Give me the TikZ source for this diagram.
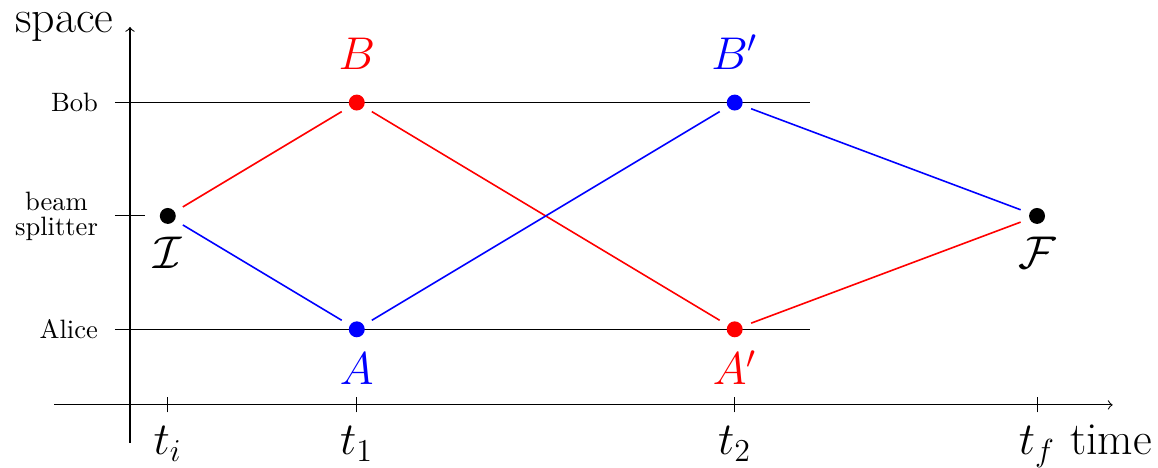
\documentclass[tikz,border=0pt]{standalone}
\usepackage{amsmath,amssymb,amsfonts}
\usepackage{xcolor}
\usepackage{tikz}
\usetikzlibrary{positioning, arrows.meta}
\definecolor{pRed}{HTML}{FF0000}
\definecolor{pBlue}{HTML}{0000FF}
\tikzset{
  dot/.style={circle, fill, inner sep=0pt, minimum size=6pt, outer sep=3.6pt},
  ray/.style={semithick},
  biglabel/.style={font=\LARGE, anchor=base, inner sep=0pt},
  place/.style={font=\normalsize, align=center, anchor=east},
}

\begin{document}
\begin{tikzpicture}[>=to]
  \useasboundingbox (-1.72,-0.833) rectangle (13.6,5.357);
  % axes
  \draw[->] (-1,0) -- (13,0);
  \draw[->] (0,-0.5) -- (0,5);
  \node[biglabel] (space) at (-0.867,4.93) {space};
  \node[biglabel] (time) at (12.98,-0.66) {time};
  % places
  \draw (-0.2,4) -- (9,4);
  \draw (-0.2,1) -- (9,1);
  \draw (-0.2,2.5) -- (0.2,2.5);
  \node[place] (bob) at (-0.3,4) {Bob};
  \node[place] (bs) at (-0.3,2.5) {beam\\[-2.6pt]splitter};
  \node[place] (alice) at (-0.3,1) {Alice};
  % times
  \foreach \x/\t in {0.5/t_i, 3/t_1, 8/t_2, 12/t_f} {
    \draw (\x,-0.1) -- (\x,0.1);
    \node[biglabel] at (\x,-0.66) {$\t$};
  }
  % events
  \node[dot] (I) at (0.5,2.5) {};
  \node[dot, pRed] (B) at (3,4) {};
  \node[dot, pBlue] (A) at (3,1) {};
  \node[dot, pBlue] (B2) at (8,4) {};
  \node[dot, pRed] (A2) at (8,1) {};
  \node[dot] (F) at (12,2.5) {};
  \node[biglabel] (Ilab) at (0.5,1.8) {$\mathcal{I}$};
  \node[biglabel] (Flab) at (12,1.8) {$\mathcal{F}$};
  \node[biglabel, pRed] (Blab) at (3,4.44) {$B$};
  \node[biglabel, pBlue] (Alab) at (3,0.265) {$A$};
  \node[biglabel, pBlue] (B2lab) at (8,4.44) {$B'$};
  \node[biglabel, pRed] (A2lab) at (8,0.265) {$A'$};
  % paths
  \draw[ray, pRed] (I) -- (B);
  \draw[ray, pRed] (B) -- (A2);
  \draw[ray, pRed] (A2) -- (F);
  \draw[ray, pBlue] (I) -- (A);
  \draw[ray, pBlue] (A) -- (B2);
  \draw[ray, pBlue] (B2) -- (F);
\end{tikzpicture}
\end{document}
